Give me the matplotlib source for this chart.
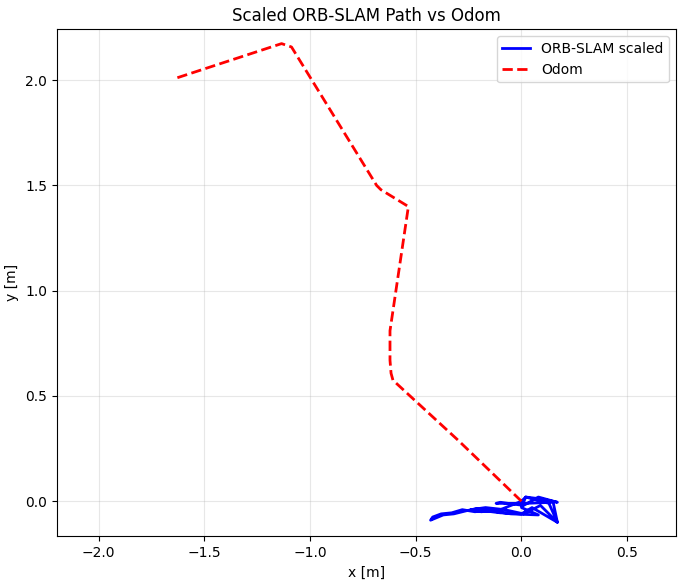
import numpy as np
import matplotlib
matplotlib.use('Agg')
import matplotlib.pyplot as plt

# odom path (x, y in m)
odom_x = [0.0, -0.30, -0.608, -0.617, -0.622, -0.622, -0.535, -0.665, -0.685, -1.088, -1.135, -1.64]
odom_y = [0.0, 0.29, 0.575, 0.608, 0.67, 0.81, 1.40, 1.48, 1.50, 2.158, 2.174, 2.008]

# scaled ORB-SLAM path
orb_x = [0.0, 0.02, 0.10, 0.17, 0.08, 0.01, -0.10, -0.12, 0.02, 0.15, 0.17, 0.05, 0.0,
         -0.10, -0.18, -0.22, -0.28, -0.33, -0.38, -0.42, -0.43, -0.37, -0.32, -0.26,
         -0.21, -0.15, -0.05, 0.08, 0.0, 0.02, 0.13, 0.17, 0.09, 0.01, -0.08, -0.17,
         -0.24, -0.19, -0.10, 0.0]
orb_y = [0.0, 0.02, 0.01, -0.005, 0.02, -0.02, -0.005, -0.01, -0.01, -0.005, -0.10, -0.03,
         -0.06, -0.055, -0.045, -0.05, -0.04, -0.055, -0.06, -0.075, -0.09, -0.065, -0.06,
         -0.045, -0.035, -0.045, -0.06, -0.065, -0.03, 0.02, -0.01, -0.10, -0.02, -0.06,
         -0.04, -0.03, -0.04, -0.05, -0.04, 0.0]

fig, ax = plt.subplots(figsize=(6.83, 5.86), dpi=100)
ax.plot(orb_x, orb_y, 'b-', lw=2, label='ORB-SLAM scaled')
ax.plot(odom_x, odom_y, 'r--', lw=2, label='Odom')
ax.set_title('Scaled ORB-SLAM Path vs Odom')
ax.set_xlabel('x [m]')
ax.set_ylabel('y [m]')
ax.set_xlim(-2.199, 0.732)
ax.set_ylim(-0.166, 2.242)
ax.grid(True, alpha=0.3)
ax.legend(loc='upper right')
plt.subplots_adjust(left=0.083, right=0.99, top=0.95, bottom=0.085)
plt.savefig('out.png')
